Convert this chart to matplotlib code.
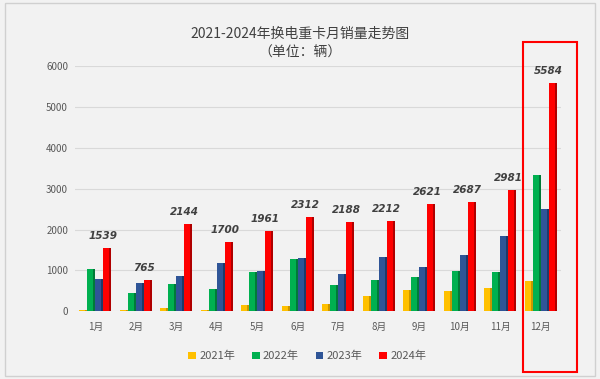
import matplotlib.pyplot as plt
import numpy as np
from matplotlib.patches import Rectangle

plt.rcParams['font.family'] = ['Noto Sans CJK SC', 'DejaVu Sans']

months = ['1月', '2月', '3月', '4月', '5月', '6月', '7月', '8月', '9月', '10月', '11月', '12月']
years = ['2021年', '2022年', '2023年', '2024年']
sales_2021 = [40, 35, 75, 20, 140, 125, 165, 370, 525, 490, 560, 745]
sales_2022 = [1040, 450, 670, 545, 950, 1290, 635, 770, 840, 975, 965, 3340]
sales_2023 = [780, 690, 870, 1175, 975, 1305, 900, 1335, 1090, 1365, 1830, 2500]
sales_2024 = [1539, 765, 2144, 1700, 1961, 2312, 2188, 2212, 2621, 2687, 2981, 5584]
colors = ['#FFC000', '#00B050', '#2F5597', '#FF0000']
side_colors = ['#C89600', '#007A38', '#1F3A68', '#B00000']

fig = plt.figure(figsize=(6, 3.79), dpi=100)
fig.patch.set_facecolor('#f2f2f2')
# 外框
fig.patches.append(Rectangle((0.008, 0.008), 0.984, 0.984, transform=fig.transFigure,
                             fill=False, edgecolor='#d0d0d0', linewidth=1))

ax = fig.add_axes([0.125, 0.179, 0.81, 0.646])
ax.set_facecolor('#f2f2f2')

x = np.arange(len(months))
w = 0.195
series = [sales_2021, sales_2022, sales_2023, sales_2024]
for i, vals in enumerate(series):
    pos = x + (i - 1.5) * w
    ax.bar(pos, vals, width=w, color=colors[i], label=years[i], zorder=3)
    # 立体侧面
    ax.bar(pos + w * 0.38, vals, width=w * 0.24, color=side_colors[i], zorder=3)

for xi, v in zip(x, sales_2024):
    ax.text(xi + 0.2, v + 170, str(v), ha='center', va='bottom', fontsize=7.5,
            fontweight='bold', fontstyle='italic', color='#404040', family='DejaVu Sans')

ax.set_xlim(-0.5, 11.5)
ax.set_ylim(0, 6000)
ax.set_yticks(range(0, 6001, 1000))
ax.yaxis.grid(True, color='#d9d9d9', linewidth=0.8, zorder=0)
for s in ax.spines.values():
    s.set_visible(False)
ax.tick_params(axis='both', length=0, labelsize=7, labelcolor='#595959')
ax.tick_params(axis='y', pad=5)
ax.tick_params(axis='x', pad=8)
ax.set_xticks(x)
ax.set_xticklabels(months)

fig.text(0.5, 0.912, '2021-2024年换电重卡月销量走势图', ha='center', va='center',
         fontsize=10, color='#404040')
fig.text(0.5, 0.86, '（单位：辆）', ha='center', va='center', fontsize=10, color='#404040')

leg = fig.legend(loc='center', bbox_to_anchor=(0.512, 0.06), ncol=4, frameon=False,
                 fontsize=8, handlelength=0.7, handleheight=0.7, columnspacing=1.5,
                 handletextpad=0.3)
for t in leg.get_texts():
    t.set_color('#595959')

# 12月 红框
fig.patches.append(Rectangle((523 / 600, 1 - 372 / 379), 54 / 600, 330 / 379,
                             transform=fig.transFigure, fill=False,
                             edgecolor='#FF0000', linewidth=1.5))

plt.savefig('out.png', dpi=100, facecolor=fig.get_facecolor())
